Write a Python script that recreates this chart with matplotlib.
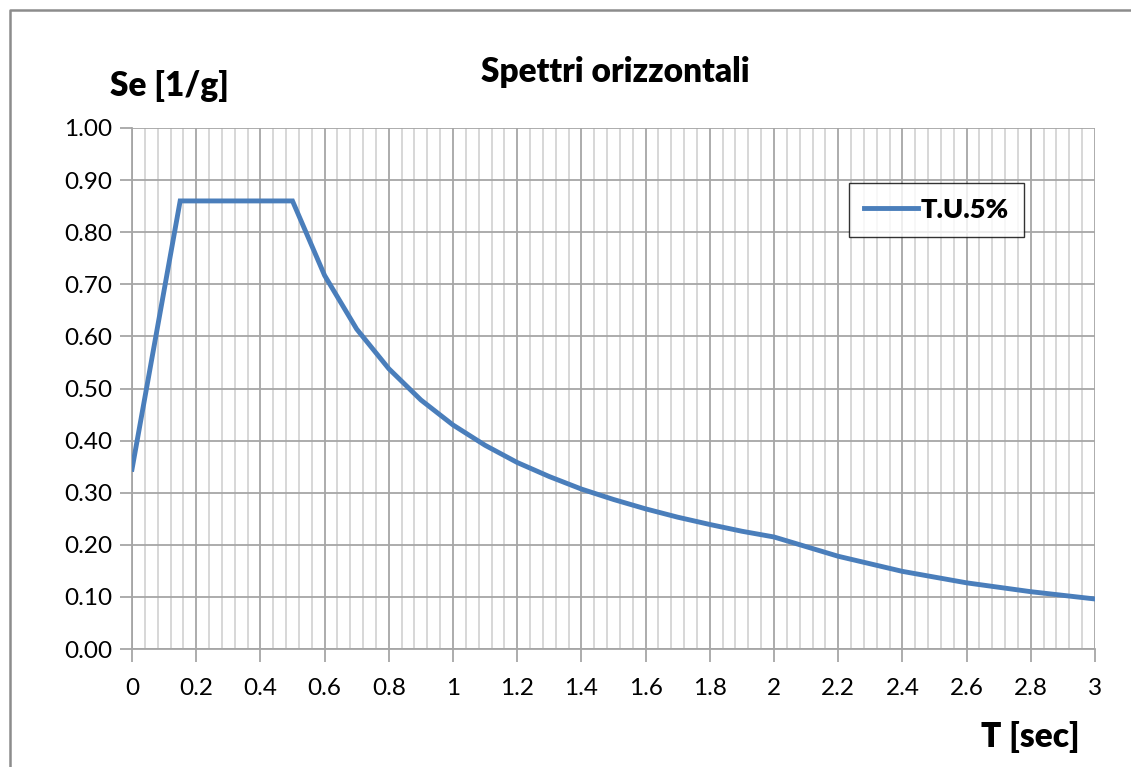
import numpy as np
import matplotlib.pyplot as plt
from matplotlib.lines import Line2D

plt.rcParams['font.family'] = ['Lato', 'DejaVu Sans']

# spectrum values
T = [0.0, 0.15, 0.5, 0.6, 0.7, 0.8, 0.9, 1.0, 1.1, 1.2, 1.3, 1.4, 1.5, 1.6, 1.7, 1.8,
     1.9, 2.0, 2.2, 2.4, 2.6, 2.8, 3.0]
Se = [0.345, 0.86, 0.86, 0.717, 0.614, 0.538, 0.478, 0.430, 0.391, 0.358, 0.331, 0.307,
      0.287, 0.269, 0.253, 0.239, 0.226, 0.215, 0.178, 0.149, 0.127, 0.110, 0.096]
series_name = "T.U.5%"
xticks = np.arange(0, 3.01, 0.2)
xlabels = ["0", "0.2", "0.4", "0.6", "0.8", "1", "1.2", "1.4", "1.6", "1.8", "2",
           "2.2", "2.4", "2.6", "2.8", "3"]
yticks = np.arange(0, 1.001, 0.1)

W, H = 1131, 767
fig = plt.figure(figsize=(W / 100, H / 100), dpi=100)
ax = fig.add_axes([132 / W, 1 - 649 / H, (1095 - 132) / W, (649 - 128) / H])

ax.set_xlim(0, 3)
ax.set_ylim(0, 1)

# grid
for x in np.arange(0, 3.001, 0.04):
    major = abs(round(x / 0.2) * 0.2 - x) < 1e-6
    ax.axvline(x, color='#a6a6a6' if major else '#d4d4d4', lw=1.3, zorder=1)
for y in yticks:
    ax.axhline(y, color='#a6a6a6', lw=1.3, zorder=1)

ax.plot(T, Se, color='#4a7ebb', lw=3.5, zorder=3, solid_joinstyle='miter')

ax.set_xticks(xticks)
ax.set_xticklabels(xlabels)
ax.set_yticks(yticks)
ax.set_yticklabels([f"{v:.2f}" for v in yticks])
ax.tick_params(axis='both', direction='out', length=9, width=1.3, color='#a6a6a6',
               labelsize=17.5, colors='#a6a6a6', labelcolor='black')
ax.tick_params(axis='x', pad=12)
ax.tick_params(axis='y', pad=5)
for s in ax.spines.values():
    s.set_visible(False)
ax.spines['left'].set_visible(True)
ax.spines['bottom'].set_visible(True)
ax.spines['left'].set_color('#a6a6a6')
ax.spines['bottom'].set_color('#a6a6a6')
ax.spines['left'].set_linewidth(1.3)
ax.spines['bottom'].set_linewidth(1.3)

leg = ax.legend([Line2D([0], [0], color='#4a7ebb', lw=3.5)], [series_name],
                loc='upper left', bbox_to_anchor=((849 - 132) / (1095 - 132), (649 - 183) / (649 - 128)),
                frameon=True, fancybox=False, handlelength=2.0, handletextpad=0.1,
                borderpad=0.55, borderaxespad=0, prop={'size': 19.5, 'weight': 'heavy'})
leg.get_frame().set_edgecolor('black')
leg.get_frame().set_linewidth(1.0)

fig.text(615 / W, 1 - 72 / H, "Spettri orizzontali", ha='center', va='center',
         fontsize=24, fontweight='heavy')
fig.text(110 / W, 1 - 86 / H, "Se [1/g]", ha='left', va='center',
         fontsize=24, fontweight='heavy')
fig.text(1080 / W, 1 - 737 / H, "T [sec]", ha='right', va='center',
         fontsize=24, fontweight='heavy')

# outer chart border (top and left visible)
fig.add_artist(Line2D([10 / W, 10 / W, 1.0], [0.0, 1 - 10 / H, 1 - 10 / H],
                      transform=fig.transFigure, color='#8c8c8c', lw=1.8))

fig.savefig("out.png", dpi=100)
